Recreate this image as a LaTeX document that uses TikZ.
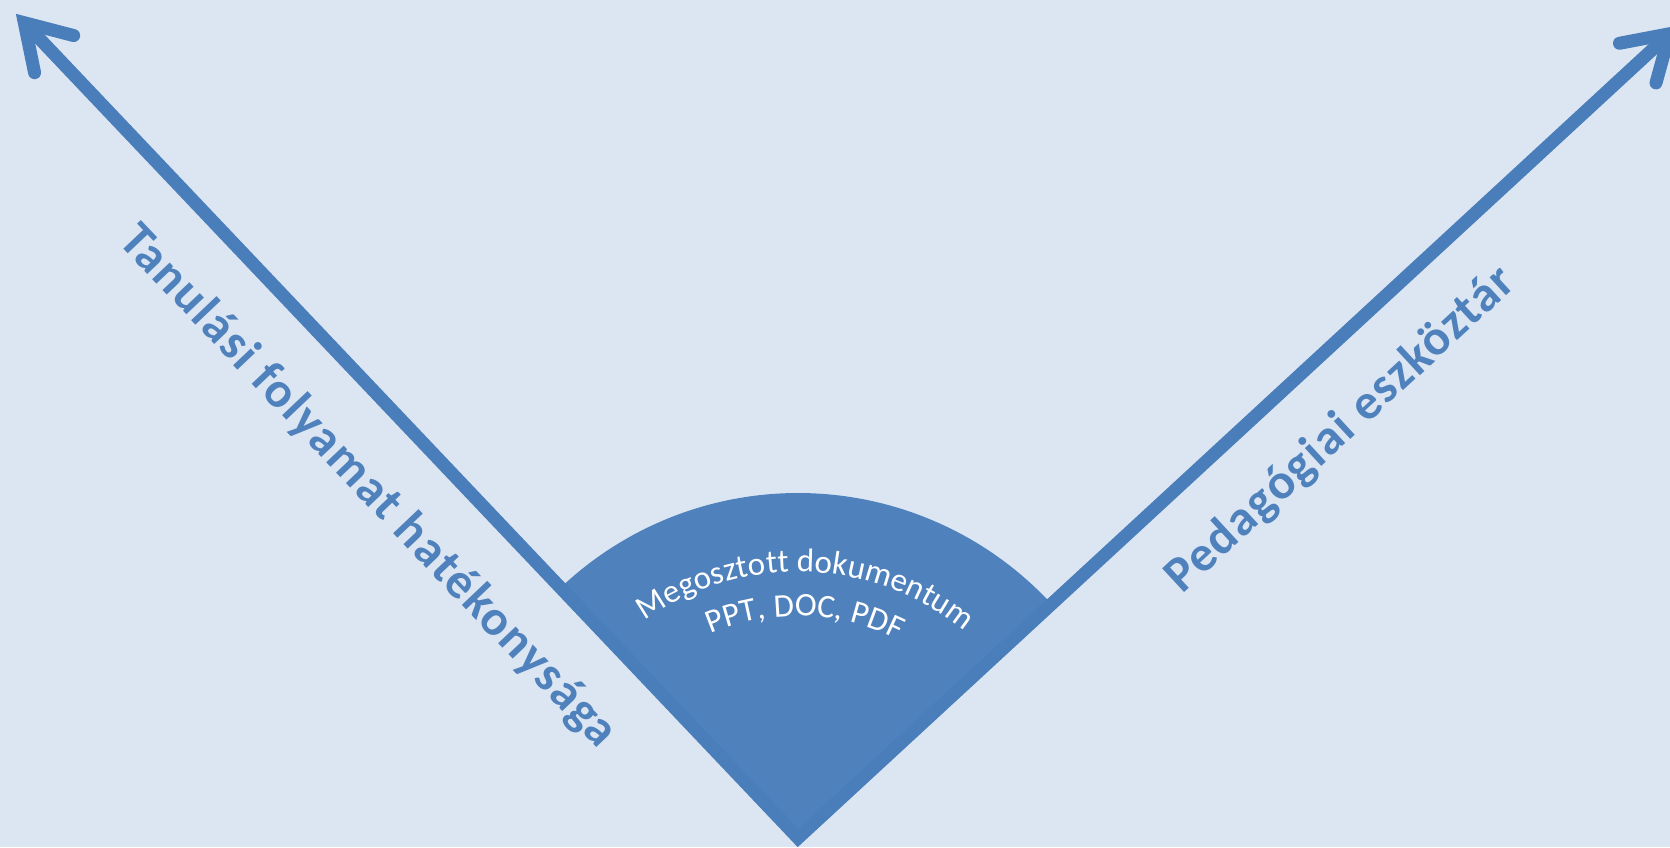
\documentclass[tikz,border=0pt]{standalone}
\usepackage{fontspec}
\setmainfont{Carlito}
\usetikzlibrary{calc,decorations.text}
\definecolor{bgblue}{HTML}{DCE6F2}
\definecolor{axisblue}{HTML}{4A7EBB}
\definecolor{fillblue}{HTML}{4F81BD}
\begin{document}
\begin{tikzpicture}[x=1pt,y=1pt,
  axisline/.style={draw=axisblue, line width=13pt, line join=miter},
  barb/.style={draw=axisblue, line width=13pt, line cap=round, line join=miter},
  sectorfill/.style={fill=fillblue},
  axislabel/.style={text=fillblue, inner sep=0pt,
      font=\bfseries\fontsize{50}{60}\selectfont\addfontfeature{LetterSpace=3}},
  arctext/.style={decorate, decoration={text along path, text align=center,
      text color=white, text={|\fontsize{33}{40}\selectfont|#1}}}]
\useasboundingbox (0,0) rectangle (1670,847);
\fill[bgblue] (0,0) rectangle (1670,847);
\clip (0,0) rectangle (1670,847);

% common vertex of the two axes and the junctions of the arrow heads
\coordinate (O) at (798,9);
\coordinate (JL) at ($(O)+(133.5:1124)$);
\coordinate (JR) at ($(O)+(42.7:1186)$);

% quarter sector between the axes
\fill[sectorfill] (O) -- ($(O)+(42.7:345)$) arc[start angle=42.7, end angle=133.5, radius=345] -- cycle;

% curved captions inside the sector
\path[arctext={Megosztott dokumentum}] ($(O)+(160.13:266)$) arc[start angle=160.13, end angle=16.13, radius=266];
\path[arctext={PPT, DOC, PDF}] ($(O)+(160.13:222)$) arc[start angle=160.13, end angle=16.13, radius=222];

% the two axes
\draw[axisline] (JL) -- (O) -- (JR);
\draw[barb] ($(JL)+(345.4:51)$) -- (JL) -- ($(JL)+(281.6:51)$);
\draw[barb] ($(JR)+(254.6:51)$) -- (JR) -- ($(JR)+(190.8:51)$);

% axis labels
\node[axislabel, rotate=-46.5, anchor=base west] (lblL) at (117,605) {Tanulási folyamat hatékonysága};
\node[axislabel, rotate=42.7, anchor=base west] (lblR) at (1182,252) {Pedagógiai eszköztár};
\end{tikzpicture}
\end{document}
